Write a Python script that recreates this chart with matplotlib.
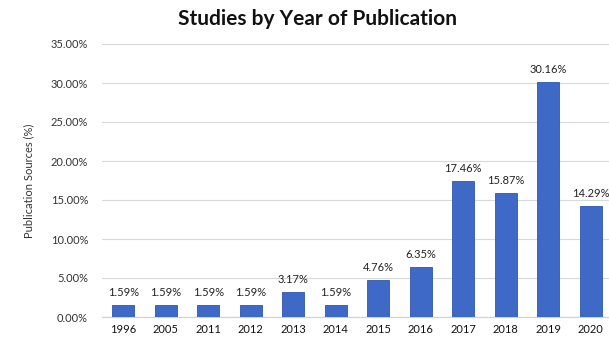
import numpy as np
import matplotlib.pyplot as plt

years = ['1996', '2005', '2011', '2012', '2013', '2014', '2015', '2016', '2017', '2018', '2019', '2020']
shares = [1.59, 1.59, 1.59, 1.59, 3.17, 1.59, 4.76, 6.35, 17.46, 15.87, 30.16, 14.29]
yticks = [0, 5, 10, 15, 20, 25, 30, 35]

plt.rcParams['font.family'] = ['Lato', 'DejaVu Sans']

fig = plt.figure(figsize=(6.09, 3.37), dpi=100)
fig.patch.set_facecolor('white')
ax = fig.add_axes([102 / 609, 20 / 337, 510 / 609, 273 / 337])

x = np.arange(len(years))
bars = ax.bar(x, shares, width=0.52, color='#3f69c6', edgecolor='#2f56a8', linewidth=0.6, zorder=3)
for xi, v in zip(x, shares):
    ax.text(xi, v + 0.9, '{:.2f}%'.format(v), ha='center', va='bottom', fontsize=8, color='#222222', zorder=4)

ax.set_xlim(-0.5, len(years) - 0.5)
ax.set_ylim(0, 35)
ax.set_yticks(yticks)
ax.set_yticklabels(['{:.2f}%'.format(t) for t in yticks], fontsize=8, color='#333333')
ax.set_xticks(x)
ax.set_xticklabels(years, fontsize=8, color='#111111')
ax.tick_params(axis='y', length=0, pad=10)
ax.tick_params(axis='x', length=0, pad=5)
ax.grid(axis='y', color='#d9d9d9', linewidth=0.8, zorder=0)
for s in ['top', 'right', 'left']:
    ax.spines[s].set_visible(False)
ax.spines['bottom'].set_color('#d0d0d0')
ax.set_ylabel('Publication Sources (%)', fontsize=8, color='#333333', labelpad=12)

fig.text(318 / 609, 1 - 19 / 337, 'Studies by Year of Publication', ha='center', va='center',
         fontsize=15, fontweight='bold', color='#111111')

fig.savefig('out.png', dpi=100)
